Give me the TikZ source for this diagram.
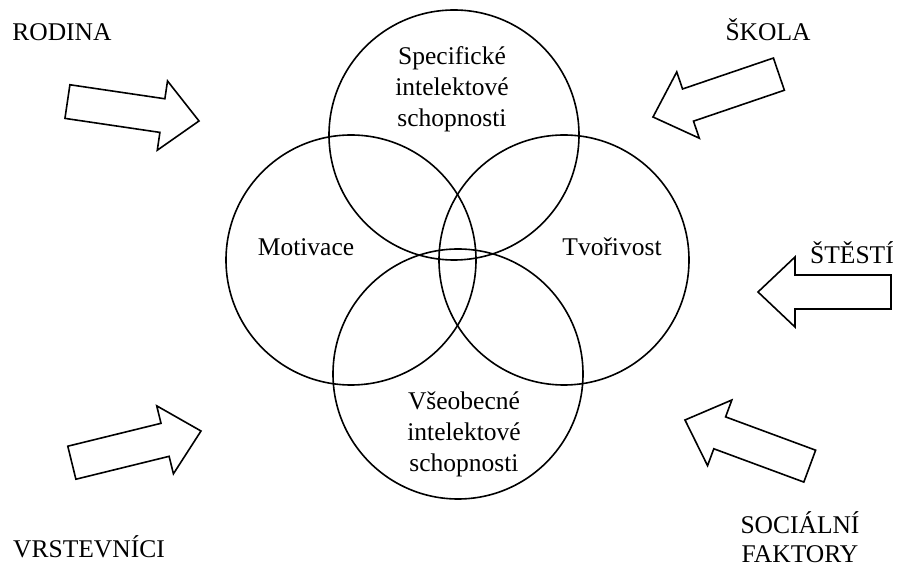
\documentclass[tikz,border=0pt]{standalone}
\usepackage{fontspec}
\setmainfont{Liberation Serif}
\begin{document}
\begin{tikzpicture}[x=1pt,y=1pt,
  ring/.style={draw, line width=1.6pt, circle, minimum size=250pt, inner sep=0pt},
  lbl/.style={font=\fontsize{25.5}{31}\selectfont, align=center, inner sep=0pt},
  barrow/.style={draw, line width=1.6pt, fill=white, line join=miter},
  pics/blockarrow/.style={code={\draw[barrow] (0,0) -- (-37,35) -- (-37,17) -- (-133,17) -- (-133,-17) -- (-37,-17) -- (-37,-35) -- cycle;}}]
\useasboundingbox (0,0) rectangle (898,570);
% circles
\node[ring] (ctop) at (454,435) {};
\node[ring] (cleft) at (351,310) {};
\node[ring] (cright) at (564,310) {};
\node[ring] (cbottom) at (458,196) {};
% circle labels
\node[lbl] (spec) at (452,481) {Specifické\\intelektové\\schopnosti};
\node[lbl] (motiv) at (306,323) {Motivace};
\node[lbl] (tvor) at (612,323) {Tvořivost};
\node[lbl] (vseob) at (464,136) {Všeobecné\\intelektové\\schopnosti};
% outside labels
\node[lbl] (rodina) at (62,538) {RODINA};
\node[lbl] (skola) at (768,540) {ŠKOLA};
\node[lbl] (stesti) at (852,317) {ŠTĚSTÍ};
\node[lbl] (vrst) at (89,23) {VRSTEVNÍCI};
\node[lbl] (soc) at (800,47) {SOCIÁLNÍ};
\node[lbl, anchor=base] (fakt) at (800,7) {FAKTORY};
% block arrows
\pic[rotate=-8.4] (arodina) at (199,449) {blockarrow};
\pic[rotate=198.8] (askola) at (653,453) {blockarrow};
\pic[rotate=180] (astesti) at (758,278) {blockarrow};
\pic[rotate=159.7] (asoc) at (685,150) {blockarrow};
\pic[rotate=13.8] (avrst) at (201,139) {blockarrow};
\end{tikzpicture}
\end{document}
